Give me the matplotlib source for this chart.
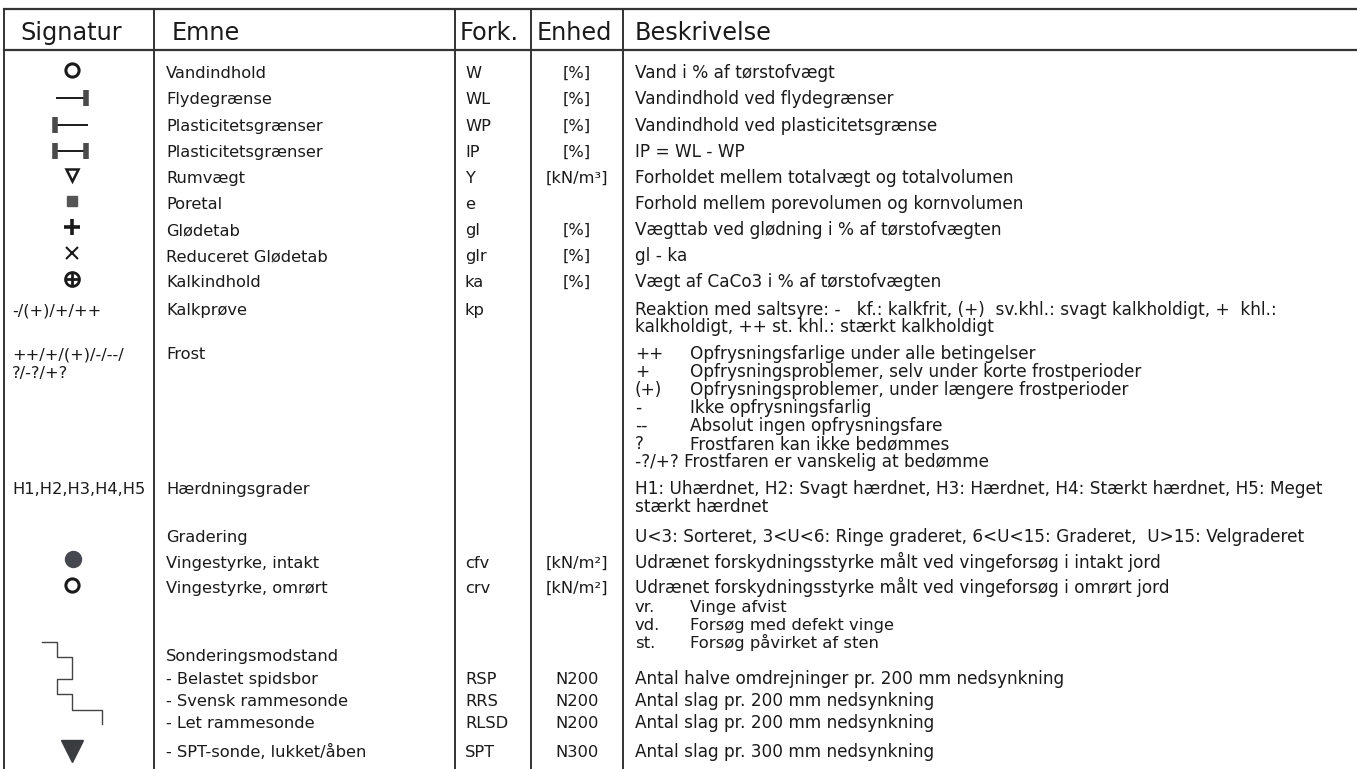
import matplotlib.pyplot as plt

# ---- table content ----
kolonner = ["Signatur", "Emne", "Fork.", "Enhed", "Beskrivelse"]

signatur = ["o_aaben", "streg_h", "streg_v", "streg_b", "tri_aaben", "firkant",
            "plus", "kryds", "cirkel_plus", "-/(+)/+/++", "++/+/(+)/-/--/\n?/-?/+?",
            "H1,H2,H3,H4,H5", "", "prik", "o_aaben", "trappe", "", "", "", "tri_fyldt"]
emne = ["Vandindhold", "Flydegrænse", "Plasticitetsgrænser", "Plasticitetsgrænser",
        "Rumvægt", "Poretal", "Glødetab", "Reduceret Glødetab", "Kalkindhold",
        "Kalkprøve", "Frost", "Hærdningsgrader", "Gradering", "Vingestyrke, intakt",
        "Vingestyrke, omrørt", "Sonderingsmodstand", "- Belastet spidsbor",
        "- Svensk rammesonde", "- Let rammesonde", "- SPT-sonde, lukket/åben"]
fork = ["W", "WL", "WP", "IP", "Y", "e", "gl", "glr", "ka", "kp", "", "", "",
        "cfv", "crv", "", "RSP", "RRS", "RLSD", "SPT"]
enhed = ["[%]", "[%]", "[%]", "[%]", "[kN/m³]", "", "[%]", "[%]", "[%]", "", "", "",
         "", "[kN/m²]", "[kN/m²]", "", "N200", "N200", "N200", "N300"]
beskrivelse = [
    "Vand i % af tørstofvægt",
    "Vandindhold ved flydegrænser",
    "Vandindhold ved plasticitetsgrænse",
    "IP = WL - WP",
    "Forholdet mellem totalvægt og totalvolumen",
    "Forhold mellem porevolumen og kornvolumen",
    "Vægttab ved glødning i % af tørstofvægten",
    "gl - ka",
    "Vægt af CaCo3 i % af tørstofvægten",
    "Reaktion med saltsyre: -   kf.: kalkfrit, (+)  sv.khl.: svagt kalkholdigt, +  khl.:\n"
    "kalkholdigt, ++ st. khl.: stærkt kalkholdigt",
    "",
    "H1: Uhærdnet, H2: Svagt hærdnet, H3: Hærdnet, H4: Stærkt hærdnet, H5: Meget\n"
    "stærkt hærdnet",
    "U<3: Sorteret, 3<U<6: Ringe graderet, 6<U<15: Graderet,  U>15: Velgraderet",
    "Udrænet forskydningsstyrke målt ved vingeforsøg i intakt jord",
    "Udrænet forskydningsstyrke målt ved vingeforsøg i omrørt jord",
    "",
    "Antal halve omdrejninger pr. 200 mm nedsynkning",
    "Antal slag pr. 200 mm nedsynkning",
    "Antal slag pr. 200 mm nedsynkning",
    "Antal slag pr. 300 mm nedsynkning",
]

frost_koder = ["++", "+", "(+)", "-", "--", "?", "-?/+?"]
frost_tekst = ["Opfrysningsfarlige under alle betingelser",
               "Opfrysningsproblemer, selv under korte frostperioder",
               "Opfrysningsproblemer, under længere frostperioder",
               "Ikke opfrysningsfarlig",
               "Absolut ingen opfrysningsfare",
               "Frostfaren kan ikke bedømmes",
               "Frostfaren er vanskelig at bedømme"]
vinge_koder = ["vr.", "vd.", "st."]
vinge_tekst = ["Vinge afvist", "Forsøg med defekt vinge", "Forsøg påvirket af sten"]

# sounding-profile symbol (resistance per depth step)
trappe_modstand = [1, 2, 1, 2, 4]
trappe_dybde = [0, 1, 2.45, 3.45, 4.45, 5.4]

# ---- layout (pixels) ----
W, H = 1357, 769
row_y = [72, 98, 125, 151, 177, 203, 229, 255, 281, 309, 353, 488, 536, 562, 587,
         655, 678, 700, 722, 751]
col_lines = [4, 154, 455, 531, 623]
x_sig, x_emne, x_fork, x_enhed, x_besk, x_sub = 12, 166, 465, 577, 635, 690
head_x = [20, 172, 460, 537, 635]
line_step = 17.5
ink = "#1a1a1a"
grey = "#4a4a4a"
fs_head, fs_body, fs_besk = 17.3, 11.7, 12.2

fig = plt.figure(figsize=(W / 100, H / 100), dpi=100)
ax = fig.add_axes([0, 0, 1, 1])
ax.set_xlim(0, W)
ax.set_ylim(H, 0)
ax.axis("off")

# grid lines
ax.plot([col_lines[0], W], [9, 9], color="#333333", lw=1.6)
ax.plot([col_lines[0], W], [50, 50], color="#333333", lw=1.6)
for x in col_lines:
    ax.plot([x, x], [9, H], color="#333333", lw=1.4)

for x, t in zip(head_x, kolonner):
    ax.text(x, 40, t, fontsize=fs_head, color=ink, va="baseline", ha="left")


def tekst(x, y, s, ha="left", step=line_step, fs=fs_body):
    for i, linje in enumerate(s.split("\n")):
        ax.text(x, y + 6 + i * step, linje, fontsize=fs, color=ink,
                va="baseline", ha=ha)


cx = 72
for y, sig in zip(row_y, signatur):
    if sig == "o_aaben":
        ax.plot(cx, y - 2, "o", ms=9.5, mfc="white", mec=ink, mew=2.2)
    elif sig in ("streg_h", "streg_v", "streg_b"):
        ax.plot([cx - 15, cx + 15], [y, y], color=ink, lw=1.4)
        ends = {"streg_h": [cx + 14], "streg_v": [cx - 17],
                "streg_b": [cx - 17, cx + 14]}[sig]
        ax.plot(ends, [y] * len(ends), "|", ms=11, mew=4, color=grey)
    elif sig == "tri_aaben":
        ax.plot(cx, y - 2, "v", ms=9, mfc="white", mec=ink, mew=1.8)
    elif sig == "firkant":
        ax.plot(cx, y - 2, "s", ms=7, color="#555555")
    elif sig == "plus":
        ax.plot(cx, y - 2, "+", ms=11, mew=2.6, color=ink)
    elif sig == "kryds":
        ax.plot(cx, y - 2, "x", ms=8, mew=1.5, color=ink)
    elif sig == "cirkel_plus":
        ax.plot(cx, y - 2, "o", ms=10, mfc="white", mec=ink, mew=2)
        ax.plot(cx, y - 2, "+", ms=10, mew=2, color=ink)
    elif sig == "prik":
        ax.plot(cx + 1, y - 3, "o", ms=11.5, color="#45484f")
    elif sig == "tri_fyldt":
        ax.plot(cx, y, "v", ms=16, color="#3a3c40")
    elif sig == "trappe":
        sx, sy = [42], [642]
        for i, m in enumerate(trappe_modstand):
            d0 = 642 + trappe_dybde[i] * 15.2
            d1 = 642 + trappe_dybde[i + 1] * 15.2
            sx += [42 + m * 15, 42 + m * 15]
            sy += [d0, d1]
        ax.plot(sx, sy, color="#444444", lw=1.0)
    elif sig:
        tekst(x_sig, y, sig, step=19)

for y, t in zip(row_y, emne):
    tekst(x_emne, y, t)
for y, t in zip(row_y, fork):
    tekst(x_fork, y, t)
for y, t in zip(row_y, enhed):
    tekst(x_enhed, y, t, ha="center")
for y, t in zip(row_y, beskrivelse):
    tekst(x_besk, y, t, fs=fs_besk)

# frost sub list
y0 = row_y[10]
for i, (k, t) in enumerate(zip(frost_koder, frost_tekst)):
    y = y0 + i * 18
    if k == "-?/+?":
        tekst(x_besk, y, k + " " + t, fs=fs_besk)
    else:
        tekst(x_besk, y, k, fs=fs_besk)
        tekst(x_sub, y, t, fs=fs_besk)

# vane sub list
for i, (k, t) in enumerate(zip(vinge_koder, vinge_tekst)):
    y = 606 + i * 18
    tekst(x_besk, y, k, fs=11.8)
    tekst(x_sub, y, t, fs=11.8)

fig.savefig("out.png", dpi=100, facecolor="white")
